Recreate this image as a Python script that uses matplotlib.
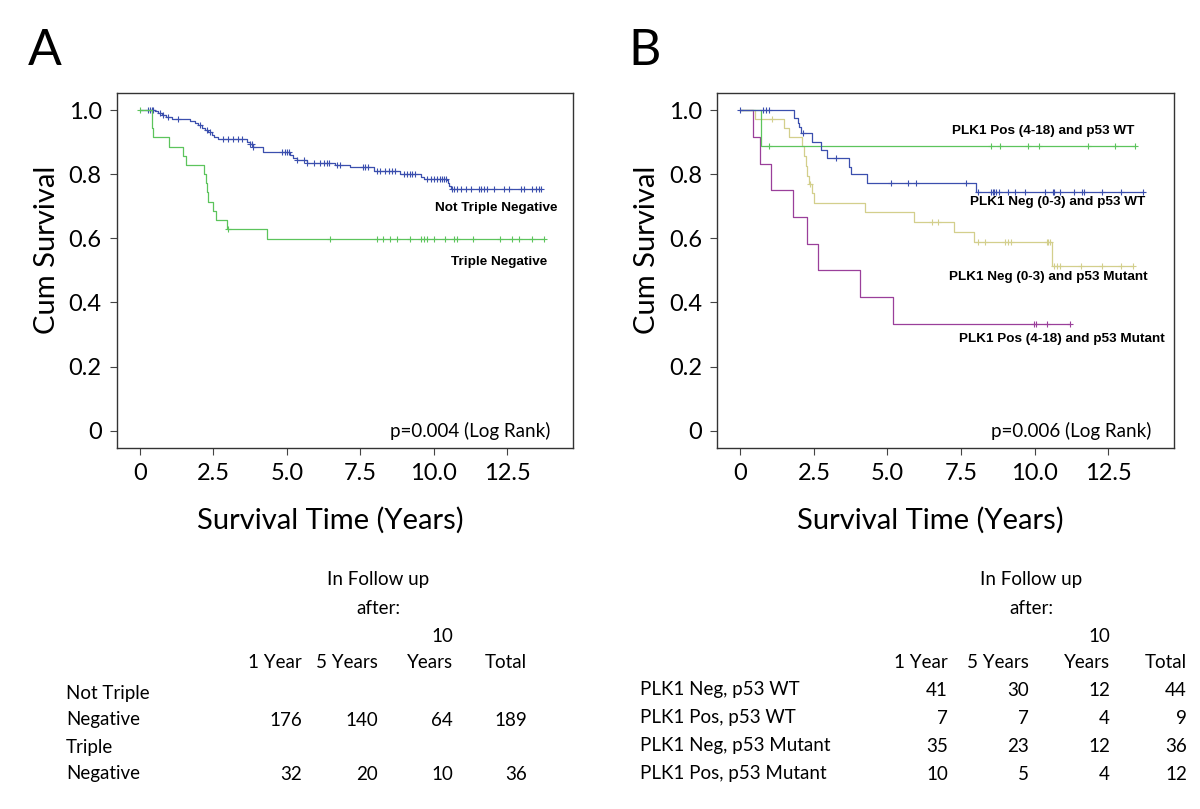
# Kaplan-Meier curves, PLK1 / triple negative
import numpy as np
import matplotlib
matplotlib.use("Agg")
import matplotlib.pyplot as plt

plt.rcParams['font.family'] = ['Lato', 'DejaVu Sans']

# ---- panel A data (years, cumulative survival) ----
ntn_t = [0.51, 0.63, 0.74, 0.89, 1.08, 1.70, 1.88, 1.99, 2.10, 2.22, 2.33, 2.44, 2.52, 2.67,
         3.64, 3.73, 3.84, 4.20, 5.11, 5.20, 5.34, 5.68, 6.65, 7.16, 7.95, 8.86, 9.55, 9.66,
         10.43, 10.48, 10.52, 10.57]
ntn_s = [0.996, 0.990, 0.984, 0.979, 0.973, 0.967, 0.958, 0.952, 0.945, 0.938, 0.930, 0.922,
         0.917, 0.910, 0.901, 0.894, 0.886, 0.868, 0.860, 0.849, 0.843, 0.836, 0.828, 0.823,
         0.810, 0.800, 0.792, 0.786, 0.782, 0.773, 0.764, 0.754]
ntn_c = [0.28, 0.34, 0.40, 0.45, 0.68, 0.80, 0.97, 1.31, 2.05, 2.27, 2.39, 2.84, 3.01, 3.18,
         3.35, 3.47, 3.75, 3.81, 3.86, 4.83, 4.94, 5.00, 5.06, 5.34, 5.57, 5.68, 5.91, 6.14,
         6.25, 6.36, 6.42, 6.70, 6.80, 7.59, 7.67, 7.75, 8.07, 8.18, 8.35, 8.47, 8.58, 8.66,
         8.98, 9.09, 9.18, 9.26, 9.34, 9.77, 9.89, 10.00, 10.11, 10.20, 10.28, 10.34, 10.40,
         10.63, 10.68, 10.80, 10.91, 11.08, 11.25, 11.53, 11.61, 11.70, 11.82, 12.05, 12.39,
         12.56, 12.95, 13.07, 13.35, 13.47, 13.58, 13.64]

tn_t = [0.40, 0.45, 1.00, 1.45, 1.57, 2.19, 2.24, 2.27, 2.33, 2.48, 2.59, 2.95, 4.32]
tn_s = [0.944, 0.917, 0.886, 0.857, 0.829, 0.800, 0.771, 0.743, 0.714, 0.686, 0.657, 0.629, 0.599]
tn_c = [0.0, 3.01, 6.48, 8.07, 8.27, 8.52, 8.75, 9.18, 9.57, 9.66, 9.75, 10.0, 10.36, 10.68,
        10.80, 11.34, 12.25, 12.67, 12.90, 13.32, 13.75]

# ---- panel B data ----
negwt_t = [1.84, 1.95, 2.01, 2.05, 2.44, 2.73, 2.95, 3.69, 3.75, 4.32, 8.01]
negwt_s = [0.974, 0.958, 0.946, 0.927, 0.901, 0.875, 0.849, 0.823, 0.800, 0.773, 0.745]
negwt_c = [0.0, 0.77, 0.88, 0.97, 2.14, 3.24, 5.11, 5.68, 5.97, 7.67, 8.07, 8.52, 8.58, 8.63,
           8.69, 8.78, 9.09, 9.32, 9.66, 10.34, 10.63, 10.67, 10.85, 11.34, 11.59, 11.68,
           12.27, 12.93, 13.69]

poswt_t = [0.70]
poswt_s = [0.889]
poswt_c = [0.97, 8.52, 8.83, 9.77, 10.15, 11.80, 12.73, 13.39]

negmut_t = [0.51, 1.48, 1.65, 2.10, 2.17, 2.22, 2.28, 2.34, 2.43, 2.50, 4.23, 5.89, 7.27,
            7.95, 10.57]
negmut_s = [0.972, 0.944, 0.917, 0.888, 0.857, 0.826, 0.795, 0.768, 0.740, 0.711, 0.683,
            0.652, 0.619, 0.587, 0.514]
negmut_c = [1.08, 2.36, 6.50, 6.73, 8.07, 8.30, 9.00, 9.09, 9.18, 10.40, 10.45, 10.51, 10.66,
            10.74, 10.85, 11.57, 12.27, 12.93, 13.35]

posmut_t = [0.43, 0.68, 1.05, 1.78, 2.25, 2.64, 4.06, 5.19]
posmut_s = [0.917, 0.833, 0.750, 0.667, 0.583, 0.500, 0.417, 0.333]
posmut_c = [9.98, 10.03, 10.40, 11.19]

# ---- follow up tables ----
col_head = ["1 Year", "5 Years", "Years", "Total"]
rows_a = ["Not Triple\nNegative", "Triple\nNegative"]
vals_a = [[176, 140, 64, 189], [32, 20, 10, 36]]
rows_b = ["PLK1 Neg, p53 WT", "PLK1 Pos, p53 WT", "PLK1 Neg, p53 Mutant", "PLK1 Pos, p53 Mutant"]
vals_b = [[41, 30, 12, 44], [7, 7, 4, 9], [35, 23, 12, 36], [10, 5, 4, 12]]

blue = "#3b4fae"
green = "#5cc45c"
khaki = "#d3cf8c"
purple = "#9a3f9a"

W, H = 1200, 809
fig = plt.figure(figsize=(W / 100, H / 100), dpi=100)


def km(ax, t, s, cens, color):
    tt = np.r_[0, t, max(cens[-1], t[-1])]
    ss = np.r_[1, s, s[-1]]
    ax.step(tt, ss, where="post", color=color, lw=0.9)
    idx = np.searchsorted(tt, cens, side="right") - 1
    ax.plot(cens, ss[idx], "+", color=color, ms=5, mew=0.8)


def setup(ax, letter, ptext):
    ax.set_xlim(-0.78, 14.73)
    ax.set_ylim(-0.054, 1.054)
    ax.set_xticks([0, 2.5, 5, 7.5, 10, 12.5])
    ax.set_xticklabels(["0", "2.5", "5.0", "7.5", "10.0", "12.5"])
    ax.set_yticks([0, 0.2, 0.4, 0.6, 0.8, 1.0])
    ax.set_yticklabels(["0", "0.2", "0.4", "0.6", "0.8", "1.0"])
    ax.tick_params(labelsize=17, length=5, width=0.8, color="#444444", pad=6)
    for sp in ax.spines.values():
        sp.set_color("#333333")
        sp.set_linewidth(1.0)
    ax.set_xlabel("Survival Time (Years)", fontsize=21)
    ax.xaxis.set_label_coords(0.467, -0.165)
    ax.set_ylabel("Cum Survival", fontsize=21)
    ax.yaxis.set_label_coords(-0.126, 0.559)
    ax.text(13.95, 0.0, ptext, ha="right", va="center", fontsize=13.5)
    pos = ax.get_position()
    fig.text(pos.x0 - 89 / W, 1 - 65 / H, letter, fontsize=36, va="baseline")


lab = dict(family=["Liberation Sans", "DejaVu Sans"], weight="bold", fontsize=9.7,
           ha="right", va="center")

# panel A
axA = fig.add_axes([117 / W, 1 - 448 / H, 456 / W, 355.3 / H])
km(axA, ntn_t, ntn_s, ntn_c, blue)
km(axA, tn_t, tn_s, tn_c, green)
setup(axA, "A", "p=0.004 (Log Rank)")
axA.text(14.2, 0.695, "Not Triple Negative", **lab)
axA.text(13.84, 0.525, "Triple Negative", **lab)

# panel B
axB = fig.add_axes([717.3 / W, 1 - 448 / H, 456.7 / W, 355.3 / H])
km(axB, posmut_t, posmut_s, posmut_c, purple)
km(axB, negmut_t, negmut_s, negmut_c, khaki)
km(axB, poswt_t, poswt_s, poswt_c, green)
km(axB, negwt_t, negwt_s, negwt_c, blue)
setup(axB, "B", "p=0.006 (Log Rank)")
axB.text(13.39, 0.935, "PLK1 Pos (4-18) and p53 WT", **lab)
axB.text(13.76, 0.713, "PLK1 Neg (0-3) and p53 WT", **lab)
axB.text(13.83, 0.480, "PLK1 Neg (0-3) and p53 Mutant", **lab)
axB.text(14.41, 0.287, "PLK1 Pos (4-18) and p53 Mutant", **lab)


def table(x_lab, col_right, head_x, rows, vals, row_y):
    fs = 13.5
    fig.text(head_x / W, 1 - 580 / H, "In Follow up", ha="center", va="center", fontsize=fs)
    fig.text(head_x / W, 1 - 608 / H, "after:", ha="center", va="center", fontsize=fs)
    fig.text(col_right[2] / W, 1 - 637 / H, "10", ha="right", va="center", fontsize=fs)
    for j, h in enumerate(col_head):
        fig.text(col_right[j] / W, 1 - 663 / H, h, ha="right", va="center", fontsize=fs)
    for i, r in enumerate(rows):
        parts = r.split("\n")
        y = row_y[i]
        if len(parts) == 2:
            fig.text(x_lab / W, 1 - (y - 27) / H, parts[0], ha="left", va="center", fontsize=fs)
        fig.text(x_lab / W, 1 - y / H, parts[-1], ha="left", va="center", fontsize=fs)
        for j, v in enumerate(vals[i]):
            fig.text(col_right[j] / W, 1 - y / H, str(v), ha="right", va="center", fontsize=fs)


table(66, [302, 378, 453, 527], 378, rows_a, vals_a, [720, 774])
table(640, [948, 1029, 1110, 1187], 1031, rows_b, vals_b, [690, 718, 746, 774])

fig.savefig("out.png", dpi=100)
